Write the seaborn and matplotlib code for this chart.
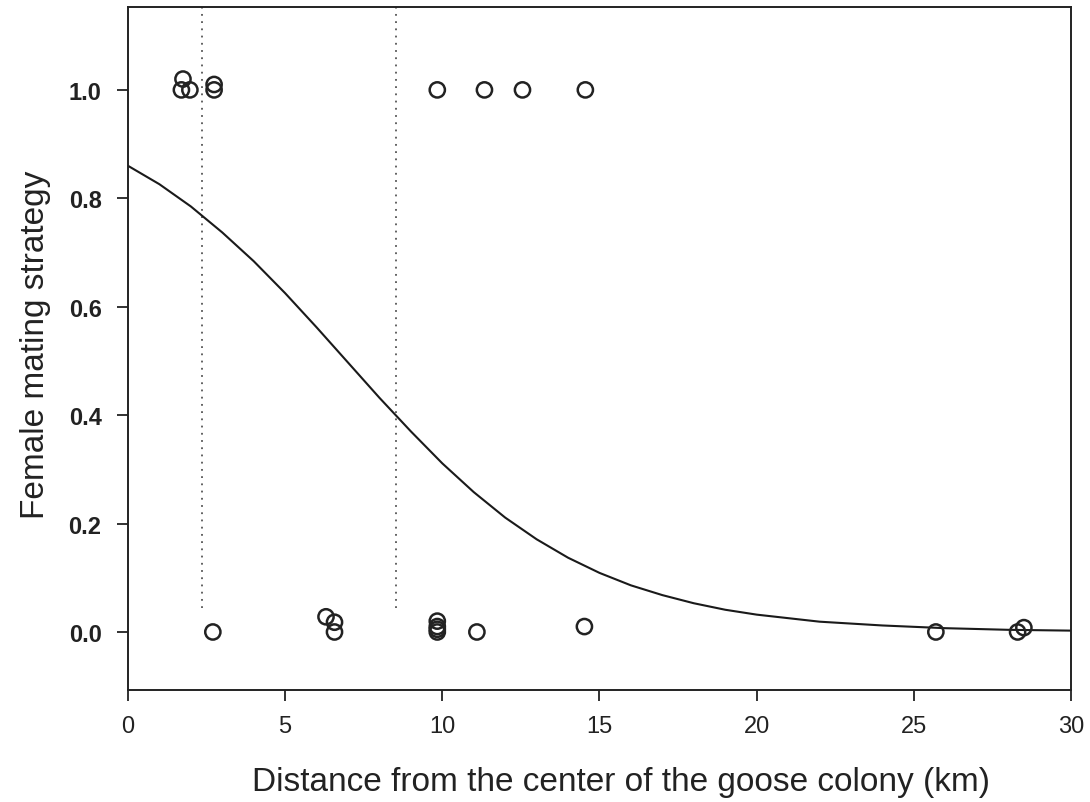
import matplotlib
matplotlib.use("Agg")
import matplotlib.pyplot as plt
import seaborn as sns
import pandas as pd

# Observed females: distance (km) and mating strategy, slightly offset as drawn
dist_obs = [1.75, 1.70, 1.97, 2.74, 2.74, 9.84, 11.34, 12.55, 14.55,
            2.70, 6.30, 6.57, 6.57, 9.84, 9.84, 9.84, 9.84, 11.10, 14.52,
            25.70, 28.30, 28.50]
strategy_obs = [1.02, 1.00, 1.00, 1.01, 1.00, 1.00, 1.00, 1.00, 1.00,
                0.00, 0.028, 0.018, 0.00, 0.00, 0.01, 0.02, 0.005, 0.00, 0.01,
                0.00, 0.00, 0.008]

# Fitted curve
curve_x = [0, 1, 2, 3, 4, 5, 6, 7, 8, 9, 10, 11, 12, 13, 14, 15, 16, 17, 18, 19,
           20, 22, 24, 26, 28, 30]
curve_y = [0.860, 0.826, 0.785, 0.737, 0.684, 0.625, 0.562, 0.497, 0.432, 0.370,
           0.311, 0.258, 0.211, 0.171, 0.137, 0.109, 0.086, 0.068, 0.053, 0.041,
           0.032, 0.019, 0.012, 0.007, 0.004, 0.0025]

# Dotted reference lines (km)
ref_lines = [2.36, 8.53]

x_ticks = [0, 5, 10, 15, 20, 25, 30]
y_ticks = [0.0, 0.2, 0.4, 0.6, 0.8, 1.0]

sns.set_style("ticks")
plt.rcParams['font.family'] = ['Liberation Sans', 'DejaVu Sans']

fig = plt.figure(figsize=(10.9, 8.03), dpi=100)
ax = fig.add_axes([0.1174, 0.1395, 0.8652, 0.8506])

obs = pd.DataFrame({"dist": dist_obs, "strategy": strategy_obs})
cur = pd.DataFrame({"x": curve_x, "y": curve_y})

ax.vlines(ref_lines, 0.045, 1.16, colors="#555555", linestyles=(0, (1, 3)), linewidth=1.3)
sns.lineplot(data=cur, x="x", y="y", ax=ax, color="#1a1a1a", linewidth=1.5)
sns.scatterplot(data=obs, x="dist", y="strategy", ax=ax, marker="o", s=120,
                facecolor="none", edgecolor="#222222", linewidth=1.8, zorder=3)

ax.set_xlim(0, 30)
ax.set_ylim(-0.107, 1.153)
ax.set_xticks(x_ticks)
ax.set_xticklabels([str(t) for t in x_ticks], fontsize=17, color="#222222")
ax.set_yticks(y_ticks)
ax.set_yticklabels([f"{t:.1f}" for t in y_ticks], fontsize=17, fontweight="bold", color="#222222")
ax.tick_params(axis="both", direction="out", length=8, width=1.3, color="#222222")
ax.tick_params(axis="y", pad=11)
ax.tick_params(axis="x", pad=10)

for sp in ax.spines.values():
    sp.set_visible(True)
    sp.set_linewidth(1.4)
    sp.set_color("#222222")

ax.set_xlabel("Distance from the center of the goose colony (km)", fontsize=24, color="#222222")
ax.set_ylabel("Female mating strategy", fontsize=24, color="#222222")
ax.xaxis.set_label_coords(0.523, -0.112)
ax.yaxis.set_label_coords(-0.0815, 0.507)

fig.savefig("out.png", dpi=100)
